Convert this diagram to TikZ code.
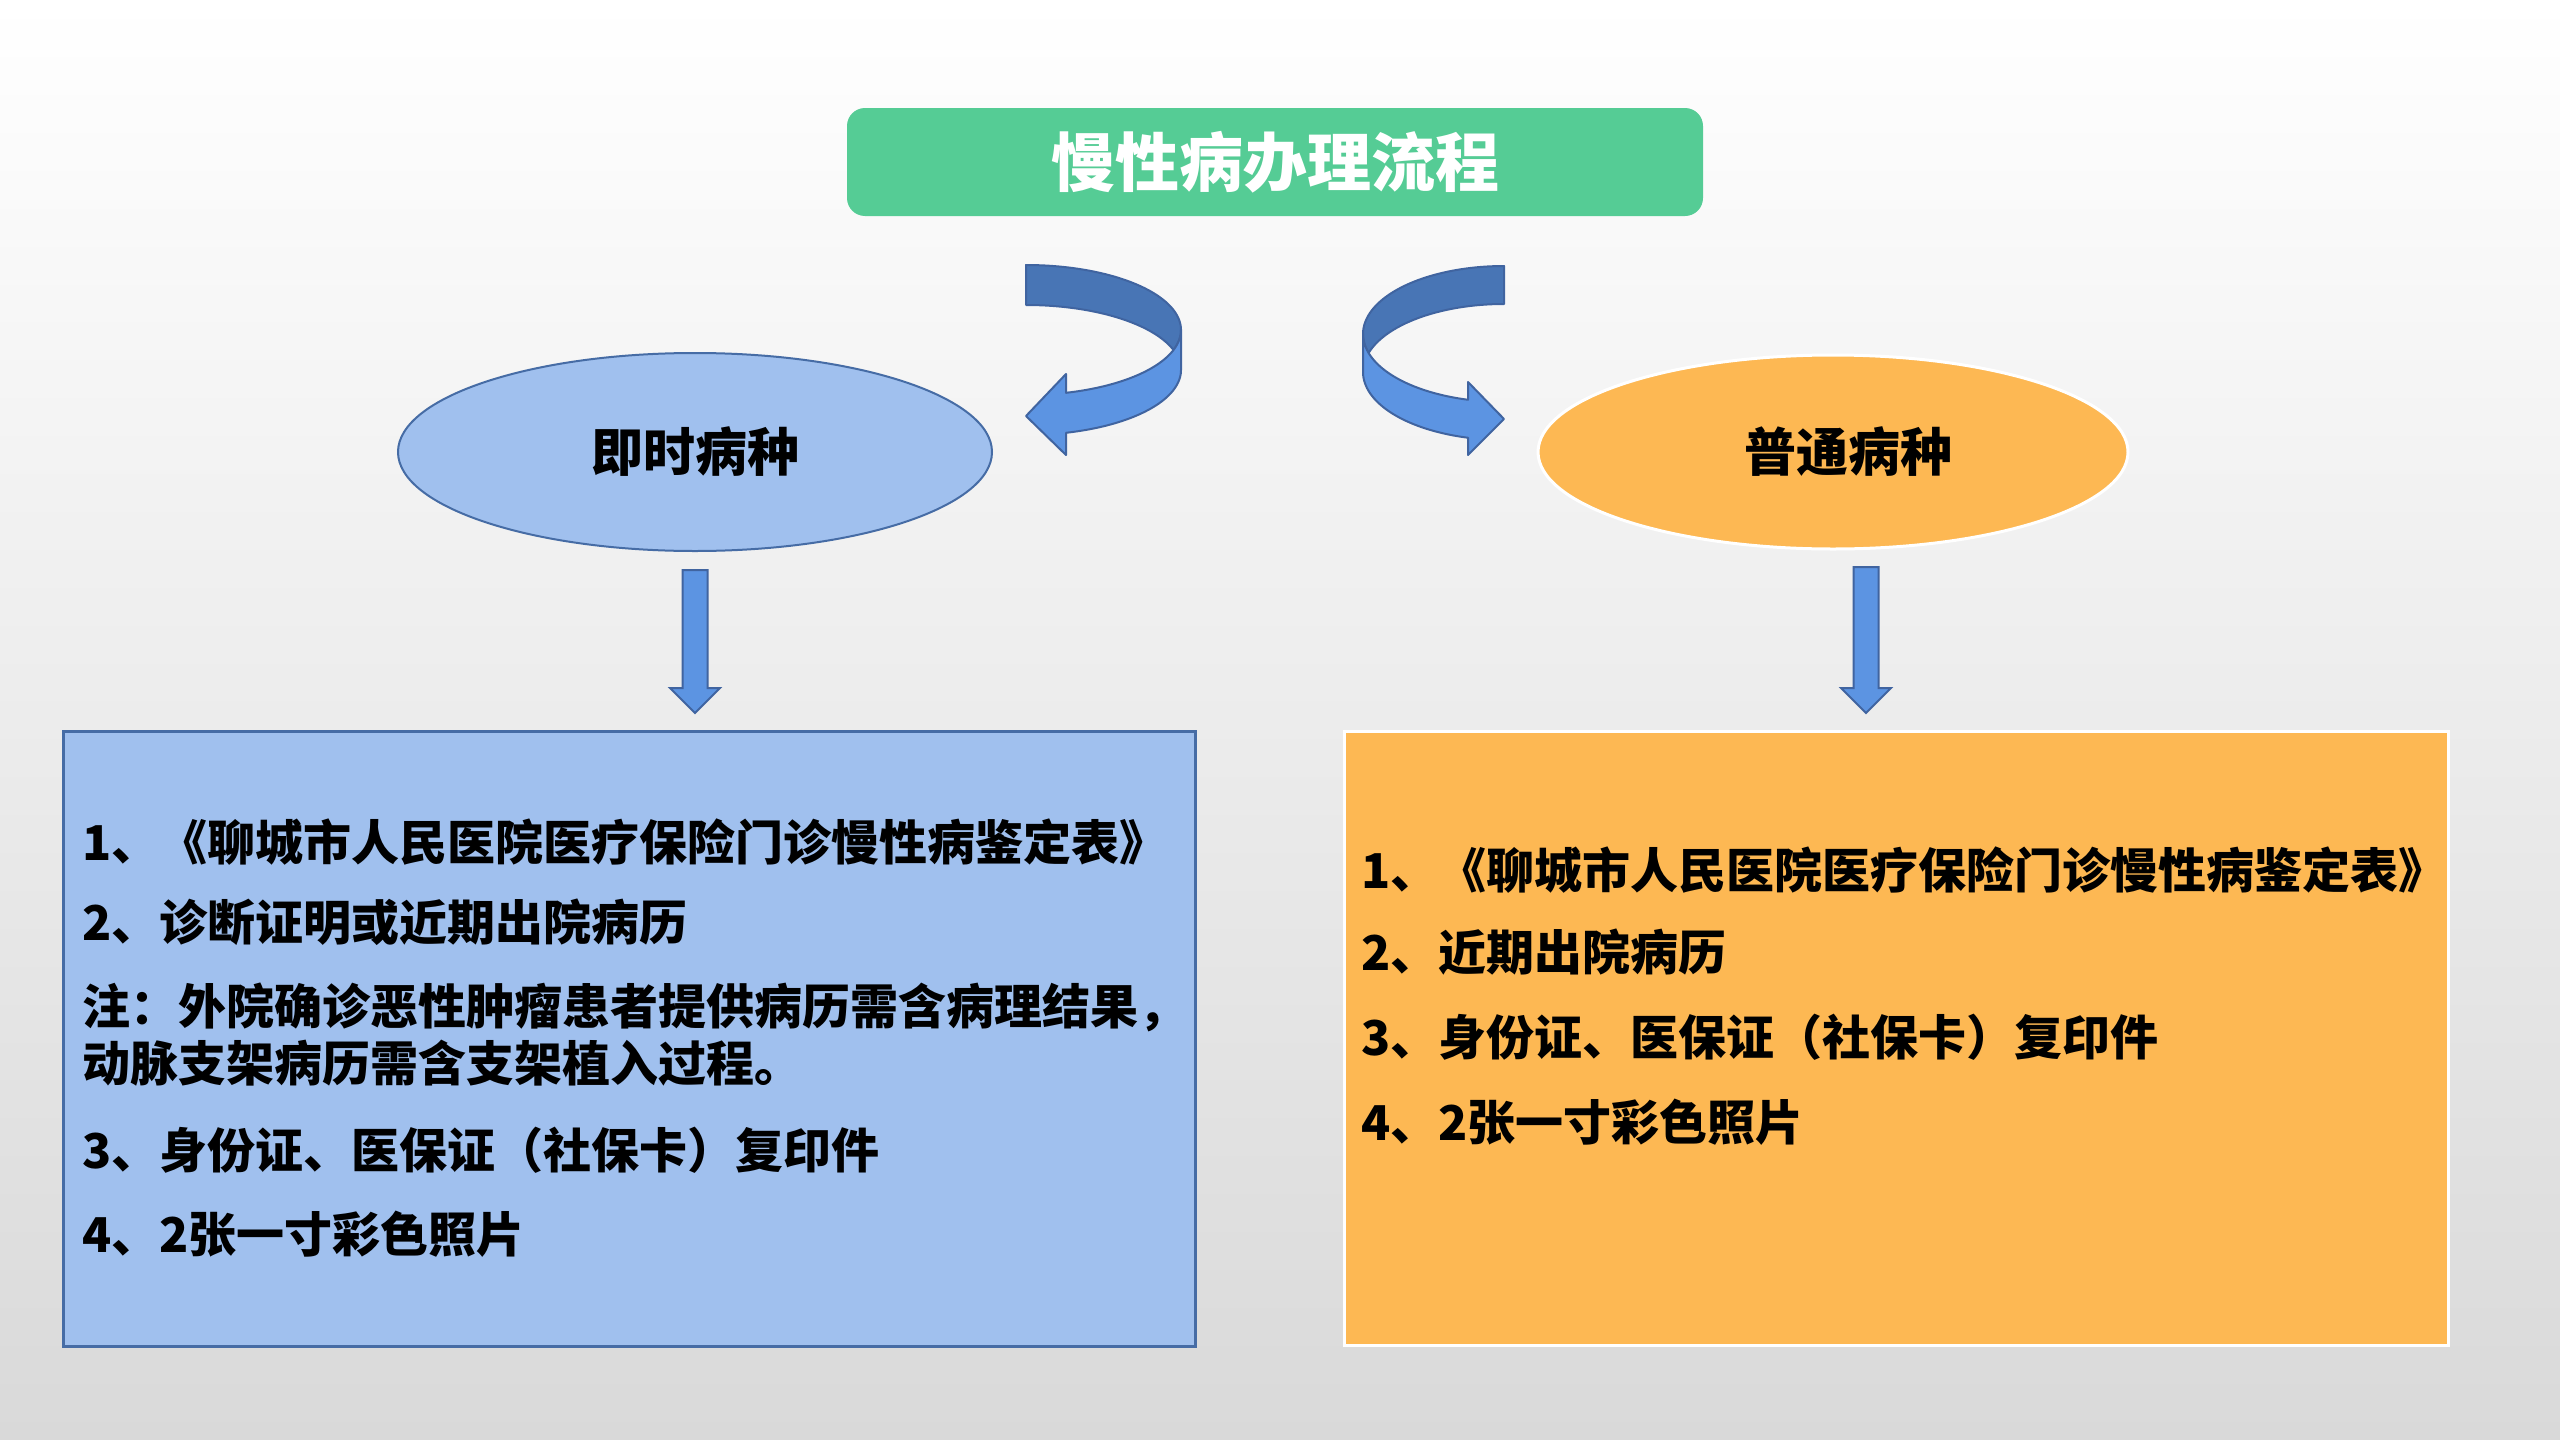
\documentclass[tikz,border=0pt]{standalone}
\usepackage{fontspec}
\newfontfamily\cjk{Noto Sans CJK SC}
\usetikzlibrary{shapes.geometric}
\definecolor{titlegreen}{RGB}{85,204,149}
\definecolor{lblue}{RGB}{160,192,238}
\definecolor{lblueline}{RGB}{70,108,165}
\definecolor{orangef}{RGB}{253,184,83}
\definecolor{arrdark}{RGB}{72,117,181}
\definecolor{arrlight}{RGB}{92,148,226}
\definecolor{arrline}{RGB}{64,100,160}
\definecolor{bgbot}{RGB}{217,217,217}
\definecolor{bgmid}{RGB}{244,244,244}
\tikzset{
  titlebox/.style={rectangle, rounded corners=18pt, fill=titlegreen, minimum width=856pt, minimum height=108pt, inner sep=0pt, text=white, font=\cjk\bfseries\fontsize{64}{70}\selectfont},
  kindL/.style={ellipse, draw=lblueline, line width=2pt, fill=lblue, minimum width=594pt, minimum height=198pt, inner sep=0pt, font=\cjk\bfseries\fontsize{52}{60}\selectfont},
  kindR/.style={ellipse, draw=white, line width=3pt, fill=orangef, minimum width=590pt, minimum height=194pt, inner sep=0pt, font=\cjk\bfseries\fontsize{52}{60}\selectfont},
  listL/.style={rectangle, draw=lblueline, line width=2.5pt, fill=lblue, minimum width=1132pt, minimum height=615pt, anchor=north west, inner sep=0pt},
  listR/.style={rectangle, draw=white, line width=3pt, fill=orangef, minimum width=1104pt, minimum height=614pt, anchor=north west, inner sep=0pt},
  itemtext/.style={anchor=west, inner sep=0pt, font=\cjk\bfseries\fontsize{48}{56}\selectfont},
  bandback/.style={fill=arrdark, draw=arrline, line width=2pt, line join=round},
  bandfront/.style={fill=arrlight, draw=arrline, line width=2pt, line join=round},
  dnblock/.style={fill=arrlight, draw=arrline, line width=2pt, line join=miter}
}
\begin{document}
\begin{tikzpicture}[x=1pt,y=-1pt]
\path[top color=white, middle color=bgmid, bottom color=bgbot] (0,0) rectangle (2560,1440);
\useasboundingbox (0,0) rectangle (2560,1440);

\node[titlebox] (title) at (1275,162) {慢性病办理流程};

% left curved arrow
\path[bandback]
  plot[domain=-90:17.92, samples=60, variable=\t] ({1026+155*cos(\t)}, {330+65*sin(\t)})
  -- plot[domain=-17.92:-90, samples=60, variable=\t] ({1026+155*cos(\t)}, {370+65*sin(\t)})
  -- cycle;
\path[bandfront]
  plot[domain=0:75.04, samples=50, variable=\t] ({1026+155*cos(\t)}, {330+65*sin(\t)})
  -- (1066,374) -- (1026,416) -- (1066,455)
  -- plot[domain=75.04:0, samples=50, variable=\t] ({1026+155*cos(\t)}, {370+65*sin(\t)})
  -- cycle;

% right curved arrow
\path[bandback]
  plot[domain=-90:16.23, samples=60, variable=\t] ({1504-141*cos(\t)}, {334+68*sin(\t)})
  -- plot[domain=-16.23:-90, samples=60, variable=\t] ({1504-141*cos(\t)}, {372+68*sin(\t)})
  -- cycle;
\path[bandfront]
  plot[domain=0:75.2, samples=50, variable=\t] ({1504-141*cos(\t)}, {334+68*sin(\t)})
  -- (1468,382) -- (1504,419) -- (1468,455)
  -- plot[domain=75.2:0, samples=50, variable=\t] ({1504-141*cos(\t)}, {372+68*sin(\t)})
  -- cycle;

\node[kindL] (e1) at (695,452) {即时病种};
\node[kindR] (e2) at (1833,452) {\hspace*{30pt}普通病种};

% down arrows
\path[dnblock] (682.5,570) -- (707.5,570) -- (707.5,688) -- (720,688) -- (695,713) -- (670,688) -- (682.5,688) -- cycle;
\path[dnblock] (1853.5,567) -- (1878.5,567) -- (1878.5,688) -- (1891,688) -- (1866,713) -- (1841,688) -- (1853.5,688) -- cycle;

\node[listL] (b1) at (62,730) {};
\node[listR] (b2) at (1343,730) {};

\node[itemtext] (l1) at (82,842) {1、《聊城市人民医院医疗保险门诊慢性病鉴定表》};
\node[itemtext] (l2) at (82,922) {2、诊断证明或近期出院病历};
\node[itemtext] (l3) at (82,1007) {注：外院确诊恶性肿瘤患者提供病历需含病理结果，};
\node[itemtext] (l4) at (82,1063) {动脉支架病历需含支架植入过程。};
\node[itemtext] (l5) at (82,1150) {3、身份证、医保证（社保卡）复印件};
\node[itemtext] (l6) at (82,1234) {4、2张一寸彩色照片};

\node[itemtext] (r1) at (1361,870) {1、《聊城市人民医院医疗保险门诊慢性病鉴定表》};
\node[itemtext] (r2) at (1361,952) {2、近期出院病历};
\node[itemtext] (r3) at (1361,1037) {3、身份证、医保证（社保卡）复印件};
\node[itemtext] (r4) at (1361,1122) {4、2张一寸彩色照片};
\end{tikzpicture}
\end{document}
